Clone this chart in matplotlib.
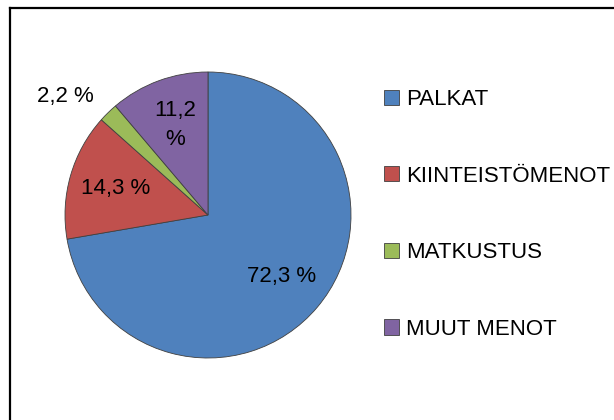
import matplotlib.pyplot as plt
from matplotlib.lines import Line2D
from matplotlib import font_manager
import numpy as np

# Data
labels = ["PALKAT", "KIINTEISTÖMENOT", "MATKUSTUS", "MUUT MENOT"]
values = [72.3, 14.3, 2.2, 11.2]
pct_texts = ["72,3 %", "14,3 %", "2,2 %", "11,2\n%"]
colors = ["#4F81BD", "#C0504D", "#9BBB59", "#8064A2"]

plt.rcParams["font.family"] = ["Liberation Sans", "DejaVu Sans"]
fontsize = 16

W, H = 614, 420
fig = plt.figure(figsize=(W / 100, H / 100), dpi=100)

# Pie axes: centre (208, 215) px, radius 143 px
cx, cy, r = 208, 215, 143
ax = fig.add_axes([(cx - r) / W, (H - cy - r) / H, 2 * r / W, 2 * r / H])
wedges, _ = ax.pie(values, colors=colors, startangle=90, counterclock=False,
                   wedgeprops=dict(edgecolor="#404040", linewidth=0.6))
ax.set_xlim(-1, 1)
ax.set_ylim(-1, 1)
ax.set_aspect("equal")

# Percentage labels
for i, w in enumerate(wedges):
    mid = np.deg2rad((w.theta1 + w.theta2) / 2)
    x, y = 0.67 * np.cos(mid), 0.67 * np.sin(mid)
    if values[i] < 5:
        # small slice: label outside the pie
        x, y = -1.0, 0.83
    ax.text(x, y, pct_texts[i], ha="center", va="center", fontsize=fontsize,
            linespacing=1.45)

# Legend
handles = [plt.Rectangle((0, 0), 1, 1, facecolor=c, edgecolor="#404040", linewidth=0.6)
           for c in colors]
fig.legend(handles, labels, loc="upper left", bbox_to_anchor=(384 / W, 1 - 89 / H),
           frameon=False, fontsize=fontsize, borderpad=0, borderaxespad=0,
           handlelength=0.68, handleheight=0.68, handletextpad=0.3,
           labelspacing=2.5)

# Outer frame (left and top edges visible)
fig.add_artist(Line2D([10 / W, 10 / W], [0, 1 - 8 / H], color="black", linewidth=1.6))
fig.add_artist(Line2D([10 / W, 1], [1 - 8 / H, 1 - 8 / H], color="black", linewidth=1.6))

plt.savefig("out.png", dpi=100)
